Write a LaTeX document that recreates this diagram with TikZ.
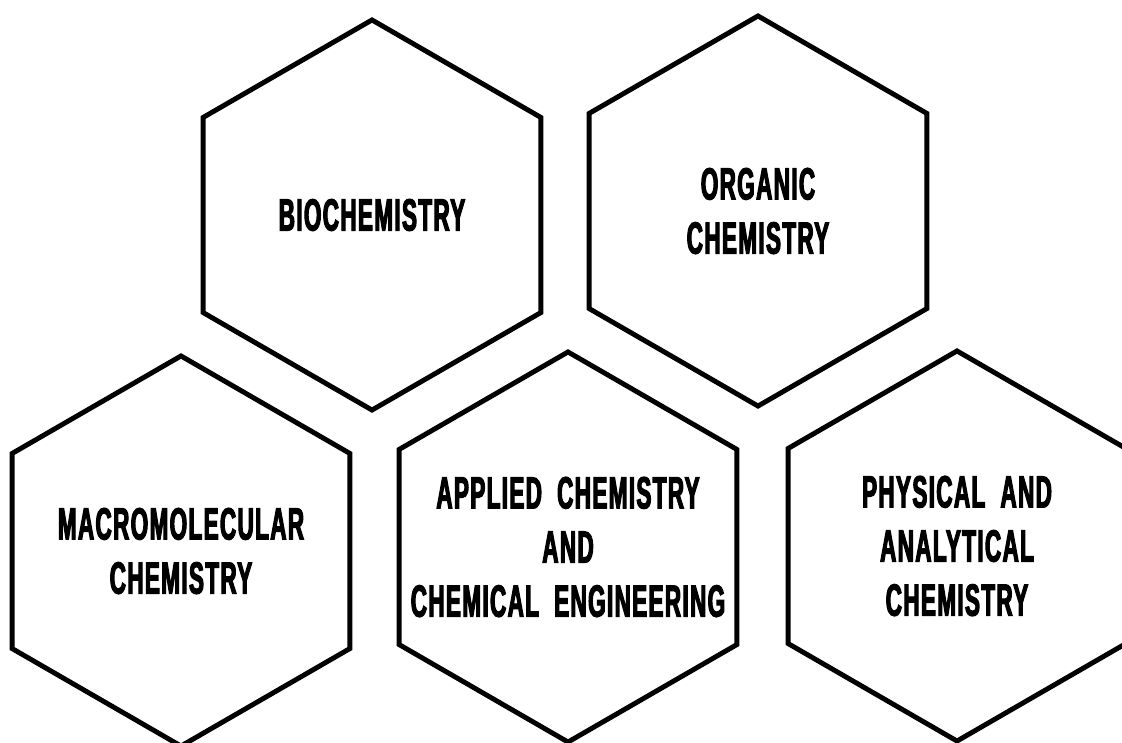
\documentclass[tikz,border=0pt]{standalone}
\usepackage{fontspec}
\newfontfamily\hexfont{Liberation Sans}[FakeStretch=0.5,FakeBold=2.5,LetterSpace=3,WordSpace=2]
\usetikzlibrary{shapes.geometric}
\begin{document}
\begin{tikzpicture}[
  x=0.025cm, y=-0.025cm,
  hexa/.style={draw, line width=3.5pt, regular polygon, regular polygon sides=6,
               shape border rotate=30, minimum size=9.75cm, inner sep=0pt},
  txt/.style={align=center, inner sep=0pt,
              font=\hexfont\bfseries\fontsize{32pt}{38.5pt}\selectfont}
]
\useasboundingbox (0,0) rectangle (1122,742);
\clip (0,0) rectangle (1122,742);
\node[hexa] (bio-h)   at (372, 215) {};
\node[hexa] (org-h)   at (758, 211) {};
\node[hexa] (macro-h) at (181, 551) {};
\node[hexa] (appl-h)  at (568, 547) {};
\node[hexa] (phys-h)  at (957, 546) {};
\node[txt] (bio)   at (bio-h)   {BIOCHEMISTRY};
\node[txt] (org)   at (org-h)   {ORGANIC\\CHEMISTRY};
\node[txt] (macro) at (macro-h) {MACROMOLECULAR\\CHEMISTRY};
\node[txt] (appl)  at (appl-h)  {APPLIED CHEMISTRY\\AND\\CHEMICAL ENGINEERING};
\node[txt] (phys)  at (phys-h)  {PHYSICAL AND\\ANALYTICAL\\CHEMISTRY};
\end{tikzpicture}
\end{document}
